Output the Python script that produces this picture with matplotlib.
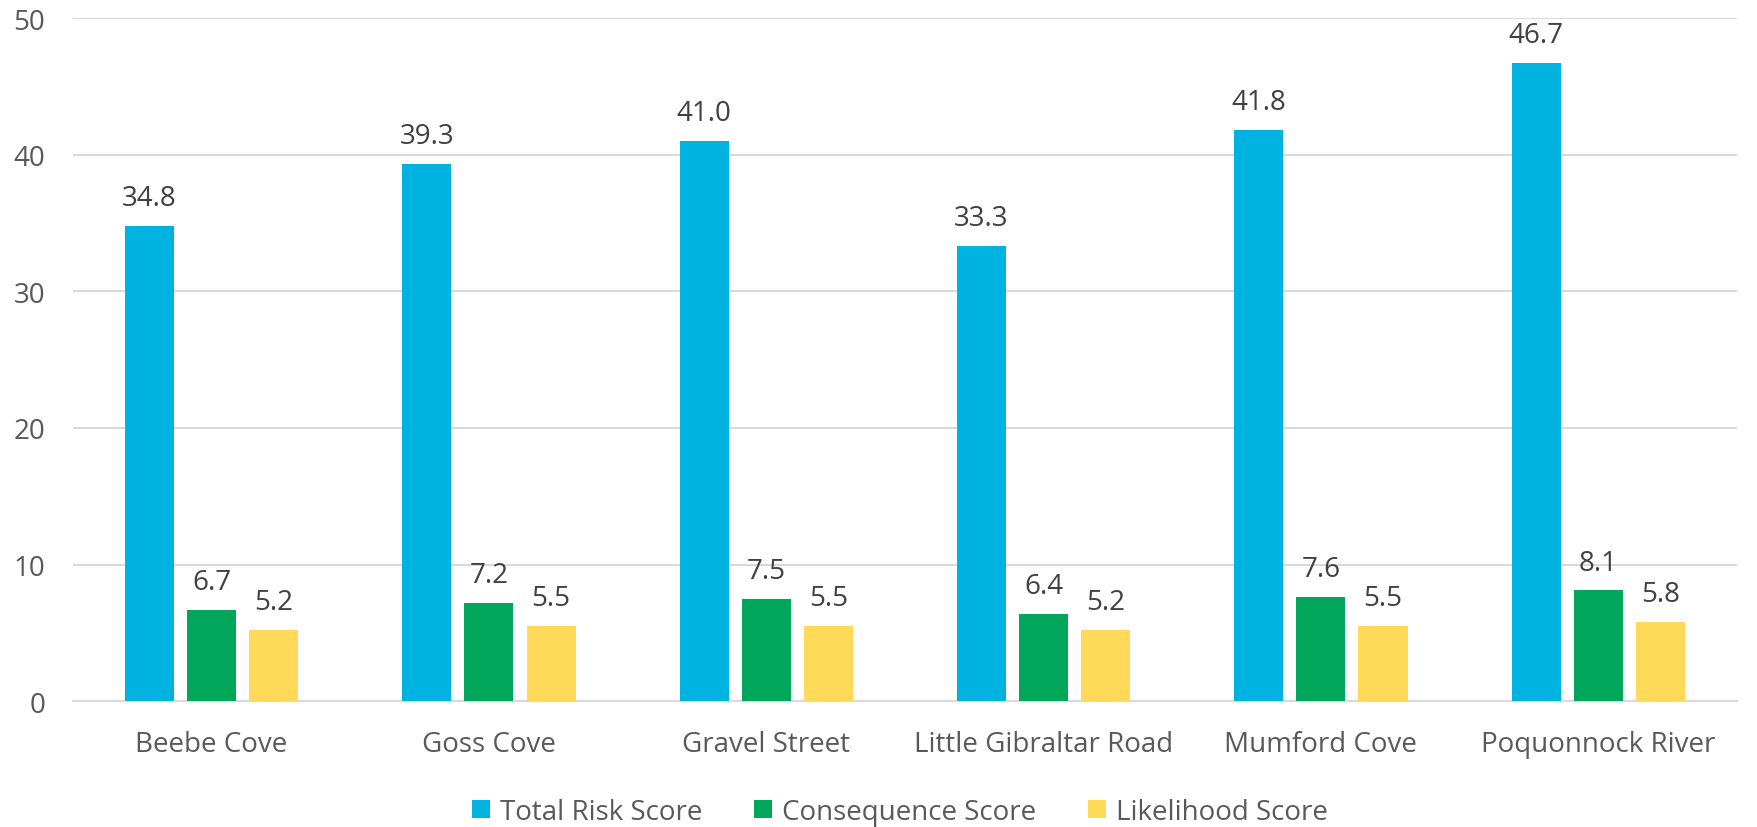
import matplotlib
matplotlib.use("Agg")
import matplotlib.pyplot as plt
import numpy as np

plt.rcParams['font.family'] = ['Open Sans', 'DejaVu Sans']

categories = ["Beebe Cove", "Goss Cove", "Gravel Street", "Little Gibraltar Road",
              "Mumford Cove", "Poquonnock River"]
total_risk = [34.8, 39.3, 41.0, 33.3, 41.8, 46.7]
consequence = [6.7, 7.2, 7.5, 6.4, 7.6, 8.1]
likelihood = [5.2, 5.5, 5.5, 5.2, 5.5, 5.8]
series_names = ["Total Risk Score", "Consequence Score", "Likelihood Score"]
y_ticks = [0, 10, 20, 30, 40, 50]

colors = ["#00B2DF", "#00A659", "#FFD957"]

fig = plt.figure(figsize=(17.58, 8.28), dpi=100)
ax = fig.add_axes([0.0415, 0.152, 0.9465, 0.825])

x = np.arange(len(categories))
step = 0.224
width = 0.177
for i, (vals, name, col) in enumerate(zip([total_risk, consequence, likelihood], series_names, colors)):
    bars = ax.bar(x + (i - 1) * step, vals, width, color=col, label=name, zorder=3)
    for b, v in zip(bars, vals):
        ax.annotate(f"{v:.1f}", (b.get_x() + b.get_width() / 2, v),
                    xytext=(0, 10), textcoords="offset points",
                    ha="center", va="bottom", fontsize=20, color="#404040")

ax.set_xlim(-0.5, len(categories) - 0.5)
ax.set_ylim(0, 50)
ax.set_yticks(y_ticks)
ax.set_xticks(x)
ax.set_xticklabels(categories)
ax.grid(axis="y", color="#D9D9D9", linewidth=1.5, zorder=0)
for s in ["top", "right", "left"]:
    ax.spines[s].set_visible(False)
ax.spines["bottom"].set_color("#D9D9D9")
ax.spines["bottom"].set_linewidth(1.5)
ax.tick_params(axis="both", length=0, labelsize=20, labelcolor="#595959")
ax.tick_params(axis="x", pad=21)
ax.tick_params(axis="y", pad=20)

ax.legend(loc="lower center", bbox_to_anchor=(0.497, -0.219), ncol=3, frameon=False,
          fontsize=20, labelcolor="#595959", handlelength=0.65, handleheight=0.61,
          handletextpad=0.36, columnspacing=1.87)

fig.savefig("out.png", dpi=100)
